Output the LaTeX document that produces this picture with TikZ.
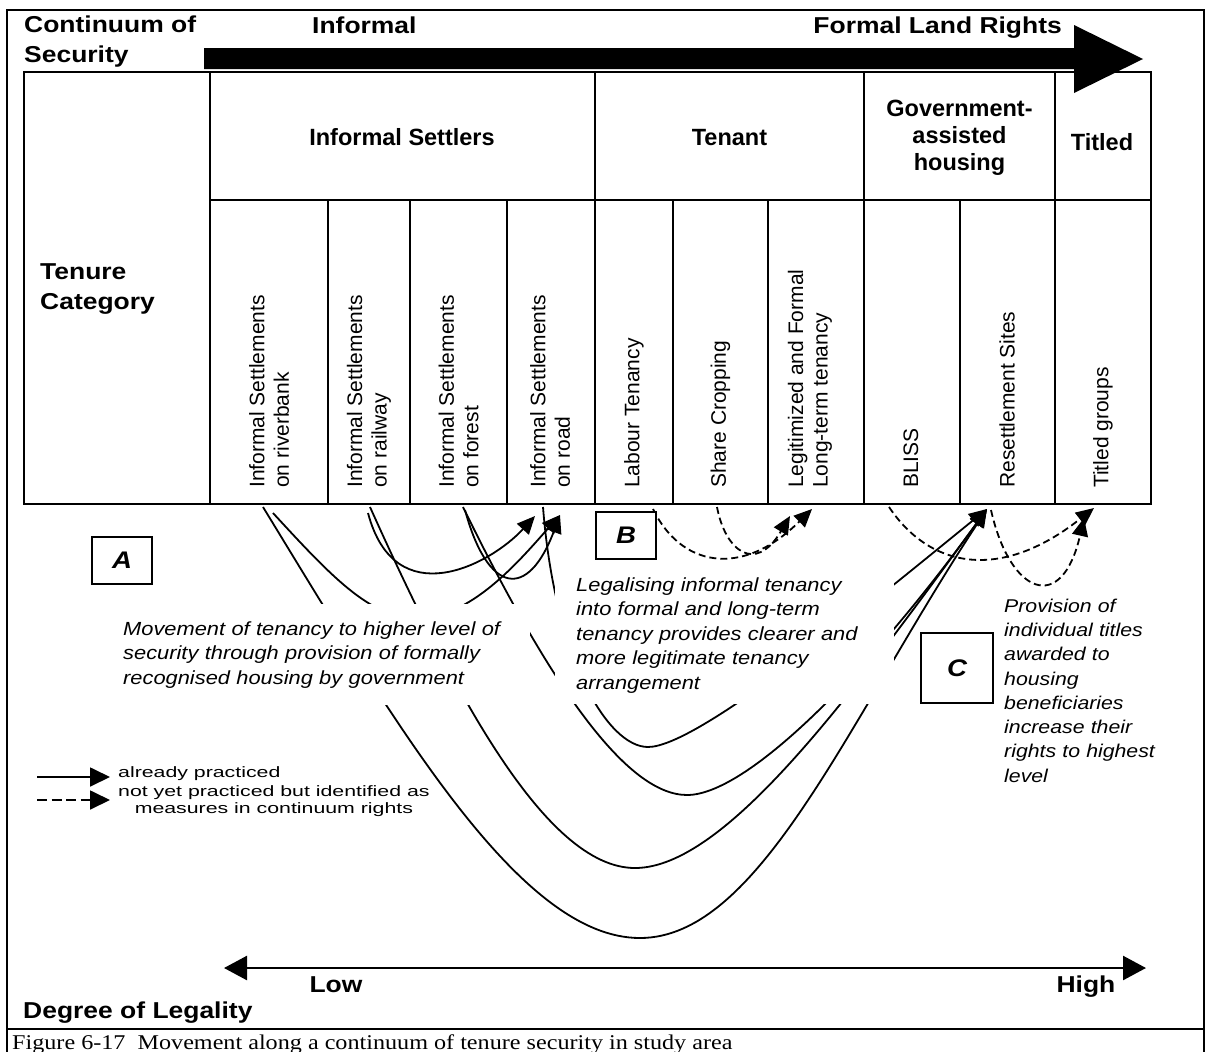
\documentclass[tikz,border=0pt]{standalone}
\usepackage{fontspec}
\setmainfont{Liberation Sans}
\newfontfamily\widesans[FakeStretch=1.15]{Liberation Sans}
\newfontfamily\legendsans[FakeStretch=1.42]{Liberation Sans}
\newfontfamily\captionserif[FakeStretch=1.15]{Liberation Serif}
\usetikzlibrary{arrows.meta}

\tikzset{
  rule/.style={line width=2pt},
  frame/.style={line width=2.2pt},
  headcell/.style={inner sep=0pt, align=center, font=\fontsize{23.5}{27}\selectfont\bfseries},
  bigtitle/.style={inner sep=0pt, align=left, font=\widesans\fontsize{23}{30}\selectfont\bfseries},
  coltext/.style={rotate=90, anchor=west, align=left, inner sep=0pt, font=\fontsize{21}{24.5}\selectfont},
  note/.style={fill=white, anchor=north west, inner ysep=0pt, align=left,
    font=\widesans\itshape\fontsize{19}{24.5}\selectfont},
  letterbox/.style={draw, line width=2pt, fill=white, inner sep=0pt,
    font=\widesans\bfseries\itshape\fontsize{24}{24}\selectfont},
  legendtext/.style={inner sep=0pt, font=\legendsans\fontsize{15}{17.5}\selectfont},
  practiced/.style={line width=1.8pt, -{Triangle[length=18pt,width=16pt]}},
  proposed/.style={practiced, dash pattern=on 7pt off 4pt},
}

\begin{document}
\begin{tikzpicture}[x=1pt,y=-1pt]
\useasboundingbox (0,0) rectangle (1210,1052);
\clip (0,0) rectangle (1210,1052);
\fill[white] (0,0) rectangle (1210,1052);

% outer frame and caption rule
\draw[frame] (7,1060) -- (7,10) -- (1204,10) -- (1204,1060);
\draw[frame] (7,1029) -- (1204,1029);

% tenure table
\draw[rule] (24,72) rectangle (1151,504);
\draw[rule] (210,200) -- (1151,200);
\foreach \x in {210,595,864,1055} \draw[rule] (\x,72) -- (\x,504);
\foreach \x in {328,410,507,673,768,960} \draw[rule] (\x,200) -- (\x,504);

\node[headcell, anchor=base] (settlers) at (402,145) {Informal Settlers};
\node[headcell, anchor=base] (tenant) at (729.5,145) {Tenant};
\node[headcell] (govhousing) at (959.5,138) {Government-\\assisted\\housing};
\node[headcell, anchor=base] (titled) at (1102,150) {Titled};

\node[bigtitle, anchor=north west] (tenure) at (40,263) {Tenure\\Category};

\node[coltext] (riverbank) at (269,488) {Informal Settlements\\on riverbank};
\node[coltext] (railway) at (369,488) {Informal Settlements\\on railway};
\node[coltext] (forest) at (458.5,488) {Informal Settlements\\on forest};
\node[coltext] (road) at (550,488) {Informal Settlements\\on road};
\node[coltext] (labour) at (634,488) {Labour Tenancy};
\node[coltext] (share) at (720.5,488) {Share Cropping};
\node[coltext] (legit) at (810,488) {Legitimized and Formal\\Long-term tenancy};
\node[coltext] (bliss) at (911,488) {BLISS};
\node[coltext] (resettle) at (1007,488) {Resettlement Sites};
\node[coltext] (titledgroups) at (1103,488) {Titled groups};

% continuum arrow along the top
\fill (204,48) -- (1074,48) -- (1074,25) -- (1143,59) -- (1074,93) -- (1074,69) -- (204,69) -- cycle;
\node[bigtitle, anchor=north west] (continuum) at (24,16) {Continuum of\\Security};
\node[bigtitle, anchor=base west] (informal) at (312,33) {Informal};
\node[bigtitle, anchor=base east] (formal) at (1062,33) {Formal Land Rights};

% end points of the movements
\coordinate (rs) at (987,509);
\coordinate (road1) at (535,516);
\coordinate (road2) at (560,515);

% informal settlements to resettlement sites
\draw[practiced] (263,507) .. controls (398,728) and (520,938) .. (640,938)
  .. controls (760,938) and (848,720) .. (rs);
\draw[practiced] (370,507) .. controls (452,689) and (545,868) .. (635,868)
  .. controls (725,868) and (850,697) .. (rs);
\draw[practiced] (463,507) .. controls (551,687) and (627,795) .. (687,795)
  .. controls (747,795) and (868,673) .. (rs);
\draw[practiced] (543,507) .. controls (555,660) and (608,747) .. (648,747)
  .. controls (698,747) and (870,604) .. (rs);

% informal settlements to settlements on road
\draw[practiced] (368,513) .. controls (395,615) and (490,565) .. (road1);
\draw[practiced] (273,513) .. controls (330,575) and (370,618) .. (415,618)
  .. controls (470,620) and (520,560) .. (road2);
\draw[practiced] (465,510) .. controls (488,595) and (528,600) .. (road2);

% measures not yet practiced
\draw[proposed] (653,509) .. controls (680,565) and (740,580) .. (812,509);
\draw[proposed] (717,507) .. controls (725,550) and (755,575) .. (790,516);
\draw[proposed] (889,507) .. controls (930,568) and (1000,582) .. (1094,508);
\draw[proposed] (991,510) .. controls (1010,595) and (1062,615) .. (1084,518);

% explanatory notes
\node[note, inner xsep=8pt, text width=399pt, minimum height=101pt] (movenote) at (115,604)
  {Movement of tenancy to higher level of\\security through provision of formally\\recognised housing by government};
\node[note, inner xsep=21pt, text width=297pt, minimum height=138pt] (legalnote) at (555,566)
  {Legalising informal tenancy\\into formal and long-term\\tenancy provides clearer and\\more legitimate tenancy\\arrangement};
\node[note, fill=none, inner xsep=0pt, text width=170pt, font=\widesans\itshape\fontsize{18.5}{24.3}\selectfont] (titlenote) at (1004,598.5)
  {Provision of\\individual titles\\awarded to\\housing\\beneficiaries\\increase their\\rights to highest\\level};

\node[letterbox, minimum width=60pt, minimum height=47pt] (boxA) at (122,560) {A};
\node[letterbox, minimum width=60pt, minimum height=47pt] (boxB) at (626,535.5) {B};
\node[letterbox, minimum width=72pt, minimum height=70pt] (boxC) at (957,668) {C};

% legend
\coordinate (solidA) at (37,777);
\coordinate (solidB) at (110,777);
\coordinate (dashA) at (37,800);
\coordinate (dashB) at (110,800);
\draw[line width=1.8pt, -{Triangle[length=20pt,width=19pt]}] (solidA) -- (solidB);
\draw[line width=1.8pt, dash pattern=on 10pt off 4.5pt, -{Triangle[length=20pt,width=19pt]}] (dashA) -- (dashB);
\node[legendtext, anchor=base west] (legend1) at (118,777) {already practiced};
\node[legendtext, anchor=north west, align=center] (legend2) at (118,785)
  {not yet practiced but identified as\\measures in continuum rights};

% degree of legality
\coordinate (lowend) at (224,968);
\coordinate (highend) at (1146,968);
\draw[line width=2.5pt, {Triangle[length=23pt,width=24pt]}-{Triangle[length=23pt,width=24pt]}] (lowend) -- (highend);
\node[bigtitle, anchor=base] (low) at (336,992) {Low};
\node[bigtitle, anchor=base] (high) at (1086,992) {High};
\node[bigtitle, anchor=base west] (degree) at (23,1018) {Degree of Legality};

% caption
\node[anchor=base west, inner sep=0pt, font=\captionserif\fontsize{21}{24}\selectfont] (caption) at (12,1049)
  {Figure 6-17~ Movement along a continuum of tenure security in study area};
\end{tikzpicture}
\end{document}
